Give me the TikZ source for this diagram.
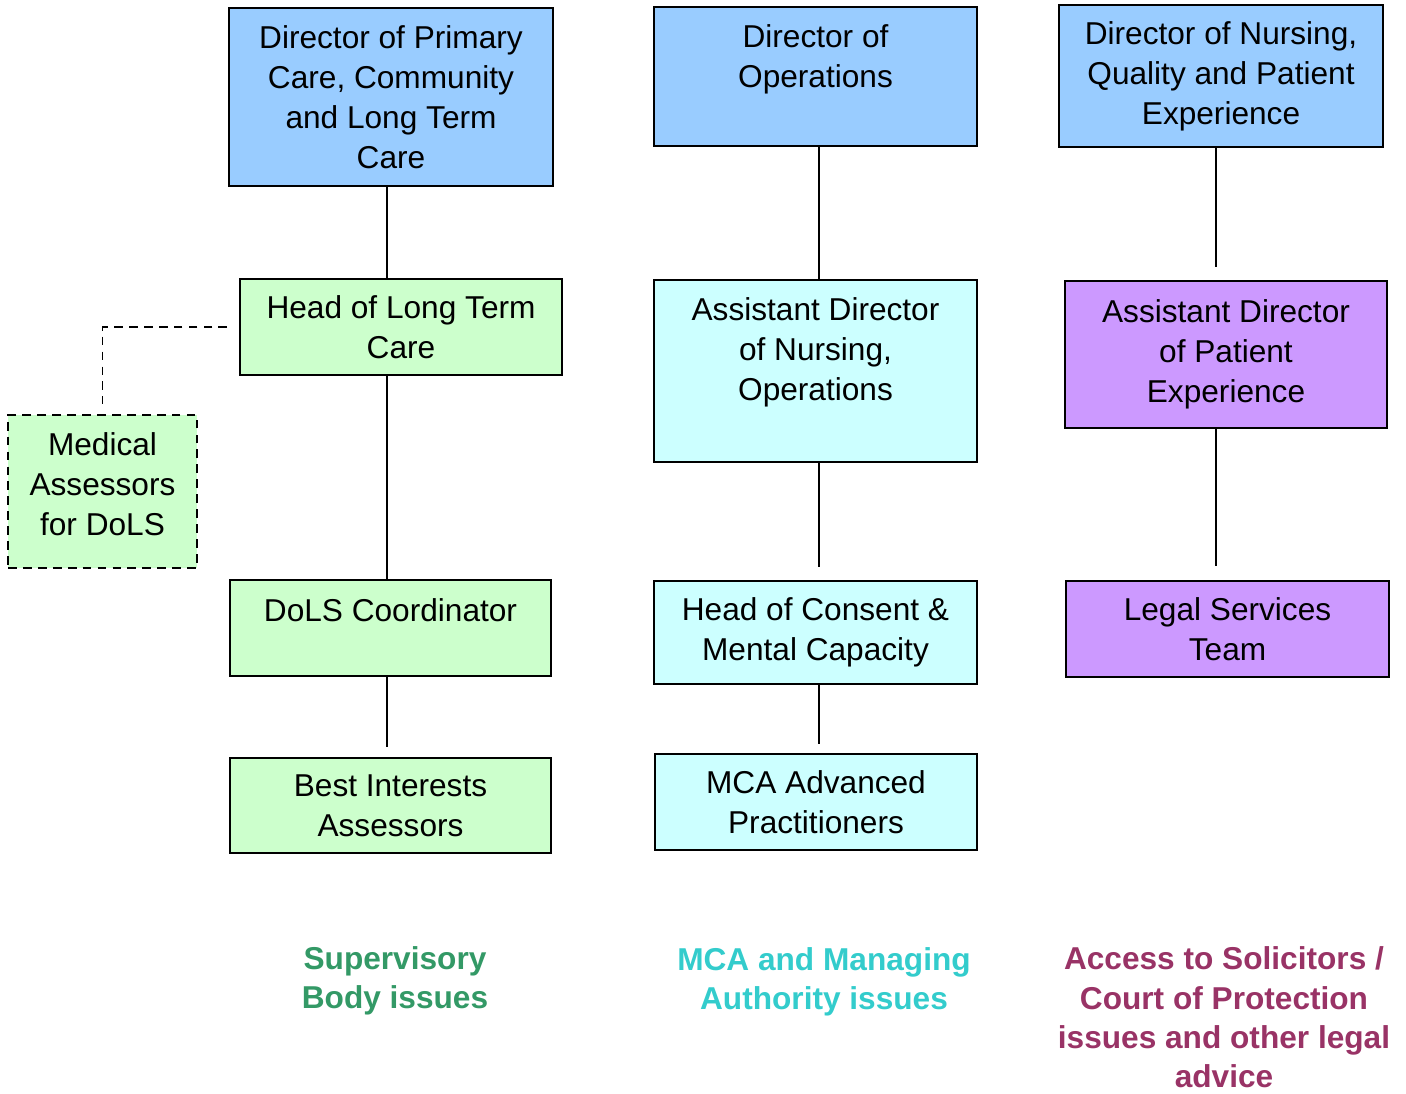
\documentclass[tikz,border=0pt]{standalone}
\usepackage{fontspec}
\setmainfont{Liberation Sans}
\usetikzlibrary{positioning, calc}

\definecolor{boxblue}{HTML}{99CCFF}
\definecolor{boxgreen}{HTML}{CCFFCC}
\definecolor{boxcyan}{HTML}{CCFFFF}
\definecolor{boxpurple}{HTML}{CC99FF}
\definecolor{tagGreen}{HTML}{339966}
\definecolor{tagCyan}{HTML}{33CCCC}
\definecolor{tagPurple}{HTML}{993366}

\begin{document}
\begin{tikzpicture}[x=0.02cm, y=-0.02cm,
  font=\fontsize{18}{22.8}\selectfont,
  box/.style={draw, line width=0.9pt, align=center, inner sep=2pt},
  link/.style={line width=0.8pt},
  dashlink/.style={line width=0.8pt, dash pattern=on 5pt off 3.5pt},
  tag/.style={font=\fontsize{18}{22.4}\selectfont\bfseries, align=center}]
\useasboundingbox (0,0) rectangle (1406,1093);

% Spalte links: Supervisory Body
\node[box, fill=boxblue, minimum width=6.48cm, minimum height=3.56cm] (dirprim) at (391,97) {Director of Primary\\Care, Community\\and Long Term\\Care};
\node[box, fill=boxgreen, minimum width=6.44cm, minimum height=1.92cm] (hltc) at (401,327) {Head of Long Term\\Care};
\node[box, dashlink, fill=boxgreen, minimum width=3.78cm, minimum height=3.06cm, text depth=8.5pt] (medass) at (102.5,491.5) {Medical\\Assessors\\for DoLS};
\node[box, fill=boxgreen, minimum width=6.42cm, minimum height=1.92cm, text depth=20.5pt] (dolsc) at (390.5,628) {DoLS Coordinator};
\node[box, fill=boxgreen, minimum width=6.42cm, minimum height=1.9cm] (bia) at (390.5,805.5) {Best Interests\\Assessors};

% Spalte Mitte: MCA
\node[box, fill=boxblue, minimum width=6.46cm, minimum height=2.78cm, text depth=23.7pt] (dirops) at (815.5,76.5) {Director of\\Operations};
\node[box, fill=boxcyan, minimum width=6.46cm, minimum height=3.64cm, text depth=25.4pt] (adno) at (815.5,371) {Assistant Director\\of Nursing,\\Operations};
\node[box, fill=boxcyan, minimum width=6.46cm, minimum height=2.06cm] (hcmc) at (815.5,632.5) {Head of Consent \&\\Mental Capacity};
\node[box, fill=boxcyan, minimum width=6.44cm, minimum height=1.92cm] (mcaap) at (816,802) {MCA Advanced\\Practitioners};

% Spalte rechts: Legal
\node[box, fill=boxblue, minimum width=6.48cm, minimum height=2.84cm] (dirnur) at (1221,76) {Director of Nursing,\\Quality and Patient\\Experience};
\node[box, fill=boxpurple, minimum width=6.44cm, minimum height=2.94cm] (adpe) at (1226,354.5) {Assistant Director\\of Patient\\Experience};
\node[box, fill=boxpurple, minimum width=6.46cm, minimum height=1.92cm] (legal) at (1227.5,629) {Legal Services\\Team};

% Beschriftung unten
\node[tag, text=tagGreen] (supbody) at (395,980.5) {Supervisory\\Body issues};
\node[tag, text=tagCyan] (mcaissues) at (824,981.5) {MCA and Managing\\Authority issues};
\node[tag, text=tagPurple] (legalissues) at (1224,1017.5) {Access to Solicitors /\\Court of Protection\\issues and other legal\\advice};

% Verbindungen
\coordinate (leftline) at (387,0);
\coordinate (midline) at (819,0);
\coordinate (rightline) at (1216,0);
\draw[link] (dirprim.south -| leftline) -- (hltc.north -| leftline);
\draw[link] (hltc.south -| leftline) -- (dolsc.north -| leftline);
\draw[link, shorten >=0.2cm] (dolsc.south -| leftline) -- (bia.north -| leftline);
\draw[link] (dirops.south -| midline) -- (adno.north -| midline);
\draw[link, shorten >=0.26cm] (adno.south -| midline) -- (hcmc.north -| midline);
\draw[link, shorten >=0.18cm] (hcmc.south -| midline) -- (mcaap.north -| midline);
\draw[link, shorten >=0.26cm] (dirnur.south -| rightline) -- (adpe.north -| rightline);
\draw[link, shorten >=0.28cm] (adpe.south -| rightline) -- (legal.north -| rightline);
\draw[dashlink, shorten <=0.24cm, shorten >=0.2cm] (hltc.west) -| (medass.north);
\end{tikzpicture}
\end{document}
